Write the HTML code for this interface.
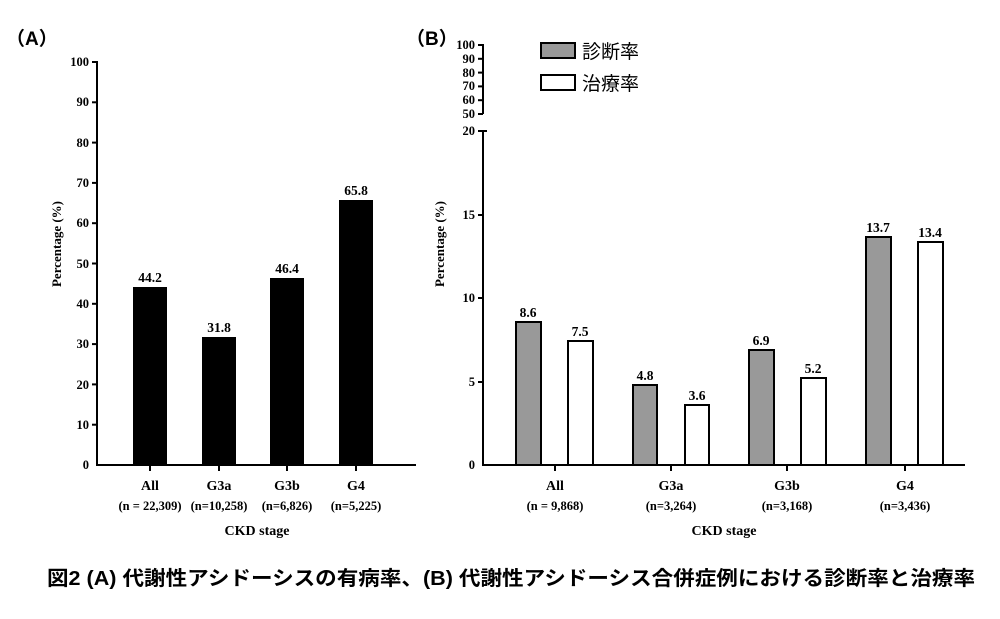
<!DOCTYPE html>
<html><head><meta charset="utf-8"><style>
body{margin:0;background:#fff;width:1000px;height:614px;overflow:hidden}
svg text{font-family:"Liberation Serif",serif;font-weight:bold;fill:#000}
</style></head><body>
<svg width="1000" height="614" viewBox="0 0 1000 614">
<g font-size="12.5">
<text x="6" y="45" font-size="19" style="font-family:'Liberation Sans','Noto Sans CJK JP',sans-serif">（A）</text>
<text x="406" y="45" font-size="19" style="font-family:'Liberation Sans','Noto Sans CJK JP',sans-serif">（B）</text>
<!-- Chart A -->
<line x1="97" y1="61" x2="97" y2="466" stroke="#000" stroke-width="2"/>
<line x1="96" y1="465" x2="416" y2="465" stroke="#000" stroke-width="2"/>
<g stroke="#000" stroke-width="2">
<line x1="92" y1="62" x2="97" y2="62"/><line x1="92" y1="102.3" x2="97" y2="102.3"/><line x1="92" y1="142.6" x2="97" y2="142.6"/><line x1="92" y1="182.9" x2="97" y2="182.9"/><line x1="92" y1="223.2" x2="97" y2="223.2"/><line x1="92" y1="263.5" x2="97" y2="263.5"/><line x1="92" y1="303.8" x2="97" y2="303.8"/><line x1="92" y1="344.1" x2="97" y2="344.1"/><line x1="92" y1="384.4" x2="97" y2="384.4"/><line x1="92" y1="424.7" x2="97" y2="424.7"/>
<line x1="150" y1="465" x2="150" y2="471"/><line x1="219" y1="465" x2="219" y2="471"/><line x1="287" y1="465" x2="287" y2="471"/><line x1="356" y1="465" x2="356" y2="471"/>
</g>
<g text-anchor="end">
<text x="89" y="66">100</text><text x="89" y="106">90</text><text x="89" y="147">80</text><text x="89" y="187">70</text><text x="89" y="227">60</text><text x="89" y="268">50</text><text x="89" y="308">40</text><text x="89" y="348">30</text><text x="89" y="389">20</text><text x="89" y="429">10</text><text x="89" y="469">0</text>
</g>
<rect x="133" y="287" width="34" height="178" fill="#000"/>
<rect x="202" y="337" width="34" height="128" fill="#000"/>
<rect x="270" y="278" width="34" height="187" fill="#000"/>
<rect x="339" y="200" width="34" height="265" fill="#000"/>
<g text-anchor="middle">
<text x="150" y="282" font-size="13.5">44.2</text><text x="219" y="332" font-size="13.5">31.8</text><text x="287" y="273" font-size="13.5">46.4</text><text x="356" y="195" font-size="13.5">65.8</text>
<text x="150" y="490" font-size="14">All</text><text x="219" y="490" font-size="14">G3a</text><text x="287" y="490" font-size="14">G3b</text><text x="356" y="490" font-size="14">G4</text>
<text x="150" y="510">(n = 22,309)</text><text x="219" y="510">(n=10,258)</text><text x="287" y="510">(n=6,826)</text><text x="356" y="510">(n=5,225)</text>
<text x="257" y="535" font-size="14">CKD stage</text>
<text transform="translate(61,244) rotate(-90)" font-size="13">Percentage (%)</text>
<text transform="translate(444,244) rotate(-90)" font-size="13">Percentage (%)</text>
</g>
<!-- Chart B -->
<g stroke="#000" stroke-width="2">
<line x1="483" y1="44" x2="483" y2="114"/>
<line x1="478" y1="45" x2="483" y2="45"/><line x1="478" y1="58.8" x2="483" y2="58.8"/><line x1="478" y1="72.6" x2="483" y2="72.6"/><line x1="478" y1="86.4" x2="483" y2="86.4"/><line x1="478" y1="100.2" x2="483" y2="100.2"/><line x1="478" y1="114" x2="483" y2="114"/>
<line x1="483" y1="131" x2="483" y2="466"/>
<line x1="478" y1="131" x2="487" y2="131"/><line x1="478" y1="215" x2="483" y2="215"/><line x1="478" y1="298" x2="483" y2="298"/><line x1="478" y1="382" x2="483" y2="382"/>
<line x1="482" y1="465" x2="965" y2="465"/>
<line x1="555" y1="465" x2="555" y2="471"/><line x1="671" y1="465" x2="671" y2="471"/><line x1="787" y1="465" x2="787" y2="471"/><line x1="905" y1="465" x2="905" y2="471"/>
</g>
<g text-anchor="end">
<text x="475" y="49">100</text><text x="475" y="63">90</text><text x="475" y="77">80</text><text x="475" y="90">70</text><text x="475" y="104">60</text><text x="475" y="118">50</text>
<text x="475" y="135">20</text><text x="475" y="219">15</text><text x="475" y="302">10</text><text x="475" y="386">5</text><text x="475" y="469">0</text>
</g>
<g stroke="#000" stroke-width="2">
<rect x="516" y="322" width="25" height="143" fill="#999"/><rect x="568" y="341" width="25" height="124" fill="#fff"/>
<rect x="633" y="385" width="24" height="80" fill="#999"/><rect x="685" y="405" width="24" height="60" fill="#fff"/>
<rect x="749" y="350" width="25" height="115" fill="#999"/><rect x="801" y="378" width="25" height="87" fill="#fff"/>
<rect x="866" y="237" width="25" height="228" fill="#999"/><rect x="918" y="242" width="25" height="223" fill="#fff"/>
<rect x="541" y="43" width="34" height="15" fill="#999"/><rect x="541" y="75" width="34" height="15" fill="#fff"/>
</g>
<text x="582" y="58" font-size="19" style="font-family:'Noto Sans CJK JP',sans-serif;font-weight:normal">診断率</text>
<text x="582" y="90" font-size="19" style="font-family:'Noto Sans CJK JP',sans-serif;font-weight:normal">治療率</text>
<g text-anchor="middle" font-size="13.5">
<text x="528" y="317">8.6</text><text x="580" y="336">7.5</text>
<text x="645" y="380">4.8</text><text x="697" y="400">3.6</text>
<text x="761" y="345">6.9</text><text x="813" y="373">5.2</text>
<text x="878" y="232">13.7</text><text x="930" y="237">13.4</text>
</g>
<g text-anchor="middle">
<text x="555" y="490" font-size="14">All</text><text x="671" y="490" font-size="14">G3a</text><text x="787" y="490" font-size="14">G3b</text><text x="905" y="490" font-size="14">G4</text>
<text x="555" y="510">(n = 9,868)</text><text x="671" y="510">(n=3,264)</text><text x="787" y="510">(n=3,168)</text><text x="905" y="510">(n=3,436)</text>
<text x="724" y="535" font-size="14">CKD stage</text>
</g>
<text x="47" y="585" font-size="20" textLength="928" lengthAdjust="spacingAndGlyphs" style="font-family:'Liberation Sans','Noto Sans CJK JP',sans-serif;font-weight:bold">図2 (A) 代謝性アシドーシスの有病率、(B) 代謝性アシドーシス合併症例における診断率と治療率</text>
</g>
</svg>
</body></html>
